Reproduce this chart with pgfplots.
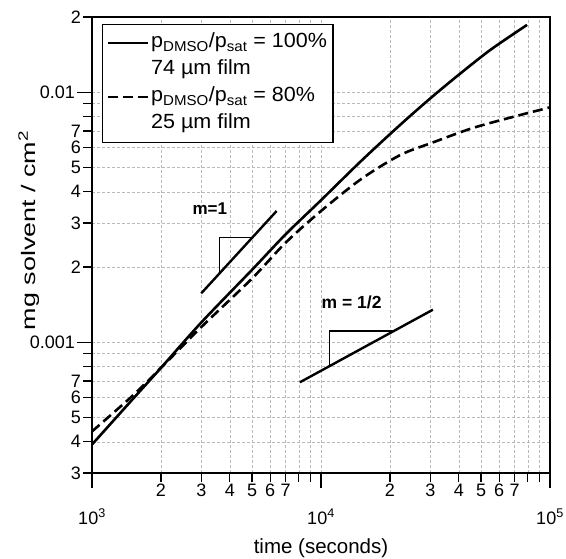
\documentclass[border=0pt]{standalone}
\usepackage{fontspec}
\setmainfont{Liberation Sans}
\usepackage{graphicx}
\usepackage{pgfplots}
\pgfplotsset{compat=1.18}
\newcommand\sx[1]{\scalebox{1.05}[1]{#1}}
\begin{document}
\begin{tikzpicture}
\begin{loglogaxis}[
  at={(0,0)}, anchor=south west,
  width=458pt, height=456pt, scale only axis,
  xmin=1000, xmax=100000, ymin=3e-4, ymax=2e-2,
  axis line style={line width=1.2pt},
  tick align=outside,
  xtick pos=left, ytick pos=left,
  xtick={1000,10000,100000},
  xticklabels={\rule{0pt}{34pt}10\textsuperscript{3},\rule{0pt}{34pt}10\textsuperscript{4},\rule{0pt}{34pt}10\textsuperscript{5}},
  ytick={0.001,0.01},
  yticklabels={0.001,0.01},
  minor xtick={2000,3000,4000,5000,6000,7000,8000,9000,20000,30000,40000,50000,60000,70000,80000,90000},
  minor ytick={4e-4,5e-4,6e-4,7e-4,8e-4,9e-4,2e-3,3e-3,4e-3,5e-3,6e-3,7e-3,8e-3,9e-3},
  major tick length=15pt, minor tick length=9pt,
  every tick/.style={line width=1.2pt, black},
  grid=both,
  major grid style={densely dashed, gray!55, line width=0.5pt},
  minor grid style={densely dashed, gray!55, line width=0.5pt},
  xticklabel style={font=\fontsize{18}{18}\selectfont, inner sep=2pt},
  yticklabel style={font=\fontsize{18}{18}\selectfont, inner sep=2pt},
  extra x ticks={2000,3000,4000,5000,6000,7000,20000,30000,40000,50000,60000,70000},
  extra x tick labels={2,3,4,5,6,7,2,3,4,5,6,7},
  extra y ticks={3e-4,4e-4,5e-4,6e-4,7e-4,2e-3,3e-3,4e-3,5e-3,6e-3,7e-3,2e-2},
  extra y tick labels={3,4,5,6,7,2,3,4,5,6,7,2},
  extra tick style={major tick length=9pt, grid=none, tick label style={font=\fontsize{12}{12}\selectfont}},
  xlabel={time (seconds)},
  ylabel={mg solvent / cm\textsuperscript{2}},
  xlabel style={at={(axis description cs:0.5,-0.164)}, anchor=center, font=\fontsize{20.5}{20.5}\selectfont},
  ylabel style={at={(axis description cs:-0.138,0.532)}, anchor=center, font=\fontsize{19.5}{19.5}\selectfont, xscale=1.38},
  legend style={at={(axis description cs:0.0218,0.985)}, anchor=north west, draw=black, line width=1.2pt,
    font=\fontsize{20.5}{25}\selectfont, inner xsep=4pt, inner ysep=5pt, row sep=0pt,
    nodes={inner ysep=2.5pt, text height=16pt, text depth=6pt}},
  legend cell align=left,
  legend image code/.code={\draw[#1] (0pt,0pt) -- (40pt,0pt);},
]
\addplot[black, line width=2.6pt, smooth] coordinates {
 (1000,3.9e-4) (1500,5.9e-4) (2000,7.9e-4) (3000,1.2e-3) (5000,1.95e-3) (7000,2.7e-3)
 (10000,3.7e-3) (15000,5.32e-3) (22000,7.36e-3) (30000,9.45e-3) (40000,1.176e-2) (55000,1.479e-2) (79400,1.86e-2)};
\addlegendentry{\sx{p\textsubscript{DMSO}/p\textsubscript{sat} = 100\%}}
\addlegendimage{empty legend}
\addlegendentry{\sx{74 µm film}}
\addplot[black, line width=2.6pt, dash pattern=on 10pt off 5pt, smooth] coordinates {
 (1000,4.4e-4) (1500,6.1e-4) (2000,7.9e-4) (3000,1.15e-3) (5000,1.8e-3) (7000,2.5e-3)
 (10000,3.35e-3) (15000,4.5e-3) (22100,5.6e-3) (30800,6.3e-3) (46100,7.2e-3) (70000,8.0e-3) (100000,8.7e-3)};
\addlegendentry{\sx{p\textsubscript{DMSO}/p\textsubscript{sat} = 80\%}}
\addlegendimage{empty legend}
\addlegendentry{\sx{25 µm film}}
% slope m=1
\addplot[black, line width=2.4pt, forget plot] coordinates {(3000,1.57e-3) (6400,3.35e-3)};
\addplot[black, line width=1.4pt, forget plot] coordinates {(3600,1.883e-3) (3600,2.62e-3) (5010,2.62e-3)};
% slope m=1/2
\addplot[black, line width=2.4pt, forget plot] coordinates {(8090,6.92e-4) (30800,1.35e-3)};
\addplot[black, line width=1.4pt, forget plot] coordinates {(10900,8.03e-4) (10900,1.11e-3) (20820,1.11e-3)};
\node[font=\bfseries\fontsize{17}{17}\selectfont] at (axis cs:3270,3.43e-3) {m=1};
\node[font=\bfseries\fontsize{17.5}{17.5}\selectfont] at (axis cs:13600,1.445e-3) {m = 1/2};
\end{loglogaxis}
\pgfresetboundingbox
\path[use as bounding box] (-92pt,-85pt) rectangle (474pt,473pt);
\end{tikzpicture}
\end{document}
